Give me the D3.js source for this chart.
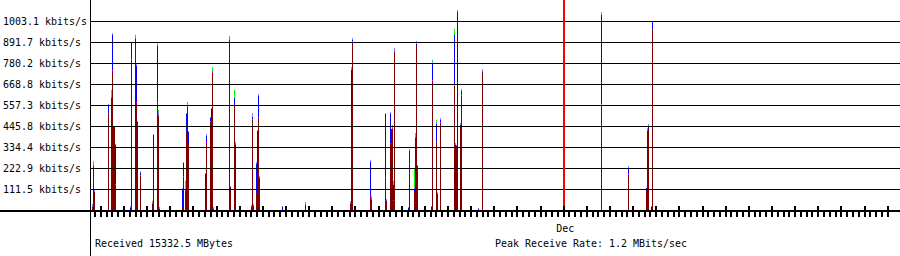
<!DOCTYPE html>
<html><head><meta charset="utf-8">
<script src="https://cdn.jsdelivr.net/npm/d3@7/dist/d3.min.js"></script>
<style>
html,body{margin:0;padding:0;background:#fff;overflow:hidden}
svg{display:block}
text{font-family:"DejaVu Sans Mono","Liberation Mono",monospace;font-size:11px;fill:#000}
</style></head>
<body><svg id="c" width="900" height="256"></svg>
<script>
// ---- data (kbits/s) ----
const yTickValues = [111.5, 222.9, 334.4, 445.8, 557.3, 668.8, 780.2, 891.7, 1003.1];
const yTickLabels = ["111.5 kbits/s","222.9 kbits/s","334.4 kbits/s","445.8 kbits/s","557.3 kbits/s","668.8 kbits/s","780.2 kbits/s","891.7 kbits/s","1003.1 kbits/s"];
const monthLabel = "Dec";
const footerLeft = "Received 15332.5 MBytes";
const footerRight = "Peak Receive Rate: 1.2 MBits/sec";
// sample slots (one pixel column per sample)
const slots = [1,2,3,17,20,21,22,23,24,39,40,44,45,46,49,61,62,66,67,68,91,92,94,95,96,97,114,115,119,120,121,122,138,139,143,144,160,161,162,165,166,167,168,191,214,259,260,261,279,280,294,295,299,300,301,302,303,317,318,323,324,325,326,340,341,345,346,349,363,364,365,366,369,370,387,391,510,537,555,556,557,560,561];
const darkred = [15.9,233.5,95.5,509.5,594.4,737.7,440.5,440.5,132.7,0,796.1,907.6,567.9,467.1,180.5,31.8,106.1,567.9,498.9,5.3,15.9,175.1,100.8,419.3,546.7,350.3,116.8,355.6,467.1,483,727.1,5.3,902.3,122.1,552,345,15.9,477.7,21.2,90.2,228.2,488.3,169.8,0,26.5,31.8,514.8,891.6,69,53.1,169.8,47.8,350.3,429.9,429.9,47.8,838.6,0,244.1,100.8,382.1,870.4,228.2,5.3,684.7,360.9,84.9,461.7,658.1,0,329.1,0,451.1,605,0,732.4,557.3,185.8,111.5,419.3,424.6,0,955.3];
const magenta = [0,5.3,0,5.3,5.3,5.3,0,0,5.3,0,5.3,5.3,5.3,0,5.3,5.3,0,5.3,5.3,0,0,5.3,5.3,0,5.3,0,0,5.3,5.3,0,10.6,0,5.3,0,5.3,5.3,0,5.3,0,0,0,5.3,0,0,5.3,5.3,0,5.3,5.3,5.3,5.3,0,5.3,0,5.3,5.3,5.3,0,5.3,0,5.3,0,0,0,5.3,5.3,0,5.3,5.3,0,0,0,0,5.3,0,5.3,5.3,5.3,0,5.3,0,0,5.3];
const blue = [0,0,0,42.5,0,185.8,0,0,207,10.6,84.9,0,191.1,0,10.6,0,291.9,297.2,0,0,95.5,69,0,90.2,0,63.7,74.3,31.8,15.9,53.1,0,0,0,0,37.2,0,0,10.6,0,153.9,191.1,111.5,0,15.9,0,0,228.2,5.3,180.5,0,334.4,0,153.9,0,0,79.6,0,10.6,63.7,10.6,0,10.6,5.3,10.6,90.2,90.2,0,10.6,265.4,345,10.6,1050.9,0,21.2,5.3,0,472.4,31.8,5.3,0,21.2,15.9,37.2];
const lavender = [15.9,10.6,10.6,5.3,5.3,10.6,5.3,5.3,5.3,10.6,5.3,15.9,10.6,5.3,10.6,10.6,5.3,0,15.9,10.6,5.3,5.3,0,5.3,21.2,5.3,5.3,10.6,5.3,5.3,0,10.6,15.9,5.3,0,10.6,10.6,21.2,10.6,10.6,5.3,10.6,10.6,5.3,10.6,10.6,0,10.6,10.6,15.9,5.3,10.6,10.6,0,15.9,0,15.9,5.3,10.6,10.6,5.3,15.9,5.3,5.3,5.3,10.6,10.6,10.6,0,10.6,5.3,10.6,10.6,10.6,5.3,10.6,0,10.6,0,10.6,10.6,5.3,5.3];
const green = [0,10.6,0,0,31.8,0,0,0,0,0,0,0,0,0,0,0,0,15.9,10.6,0,0,0,47.8,0,0,0,0,0,0,0,21.2,0,0,0,42.5,0,0,0,0,0,0,0,0,0,0,0,15.9,0,0,0,0,0,0,0,0,21.2,0,0,0,95.5,15.9,0,0,0,10.6,10.6,0,0,31.8,0,0,0,0,0,0,0,15.9,0,0,0,0,0,0];
const yellow = [0,0,0,0,0,0,0,0,0,0,0,5.3,0,0,0,5.3,0,0,0,5.3,0,0,0,0,0,0,0,0,0,0,0,0,0,0,0,0,0,0,0,0,0,0,0,0,0,0,0,0,5.3,0,0,0,0,0,0,0,0,0,0,0,0,0,0,0,5.3,5.3,0,0,0,0,0,0,0,0,0,0,0,0,0,0,0,0,0];
const seriesKeys = ["darkred","magenta","blue","lavender","green","yellow"];
const seriesColors = {darkred:"#800000",magenta:"#ff00ff",blue:"#0000ff",lavender:"#8080ff",green:"#00ff00",yellow:"#ffff00"};

// ---- scales ----
const svg = d3.select("#c");
const tStart = new Date(Date.UTC(2003,10,10,13,44));
const tEnd   = new Date(Date.UTC(2003,11,15,12,48));
const tTickEnd = new Date(Date.UTC(2003,11,15,0,0,1));
const monthDate = new Date(Date.UTC(2003,11,1));
const x = d3.scaleUtc().domain([tStart,tEnd]).range([91,900]);
const xs = d3.scaleLinear().domain([0,809]).range([91,900]);
const y = d3.scaleLinear().domain([0,1003.1]).range([210,21]);

const rows = slots.map((s,i)=>({slot:s,darkred:darkred[i],magenta:magenta[i],blue:blue[i],lavender:lavender[i],green:green[i],yellow:yellow[i]}));
const stack = d3.stack().keys(seriesKeys)(rows);

// bars
const gb = svg.append("g").attr("shape-rendering","crispEdges");
stack.forEach(layer=>{
  gb.selectAll(null).data(layer.filter(d=>d[1]-d[0]>0)).enter().append("rect")
    .attr("x",d=>xs(d.data.slot)).attr("width",d=>xs(d.data.slot+1)-xs(d.data.slot))
    .attr("y",d=>y(d[1])).attr("height",d=>y(d[0])-y(d[1]))
    .attr("fill",seriesColors[layer.key]);
});

// gridlines
svg.append("g").selectAll("line").data(yTickValues).enter().append("line")
  .attr("x1",91).attr("x2",900)
  .attr("y1",d=>Math.round(y(d))+0.5).attr("y2",d=>Math.round(y(d))+0.5)
  .attr("stroke","#000").attr("stroke-width",1);

// month marker
const mx = Math.round(x(monthDate));
svg.append("rect").attr("x",mx-1).attr("width",2).attr("y",0).attr("height",206).attr("fill","#ff0000");

// baseline
svg.append("rect").attr("x",0).attr("width",900).attr("y",210).attr("height",2).attr("fill","#000");
// axis line
svg.append("rect").attr("x",90).attr("width",1).attr("y",0).attr("height",256).attr("fill","#000");

// ticks
const minor = d3.utcHour.every(6).range(x.domain()[0], tTickEnd);
svg.append("g").selectAll("rect").data(minor).enter().append("rect")
  .attr("x",d=>Math.round(x(d))-1).attr("width",2)
  .attr("y",d=>d.getUTCHours()===0?206:212)
  .attr("height",d=>d.getUTCHours()===0?11:5)
  .attr("fill","#000");

// labels
function txt(s,xp,yp,anchor){
  return svg.append("text").attr("x",xp).attr("y",yp).attr("text-anchor",anchor||"start")
    .attr("textLength",s.length*6).attr("lengthAdjust","spacingAndGlyphs").text(s);
}
yTickValues.forEach((v,i)=>txt(yTickLabels[i],3,Math.round(y(v))+4));
txt(monthLabel, x(monthDate)+1.5, 232, "middle");
txt(footerLeft, 95, 247);
txt(footerRight, 495, 247);
</script></body></html>
